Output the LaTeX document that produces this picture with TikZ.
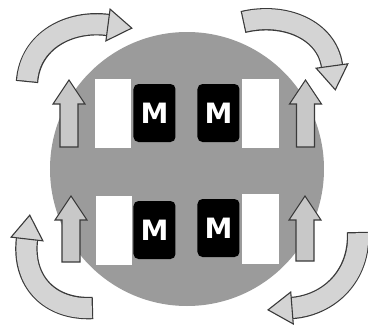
\documentclass[tikz,border=0pt]{standalone}
\usepackage{fontspec}
\newfontfamily\mfont{DejaVu Sans}
\usetikzlibrary{calc}
\definecolor{disc}{HTML}{9B9B9B}
\definecolor{lite}{HTML}{D4D4D4}
\definecolor{shaftfill}{HTML}{C8C8C8}
\definecolor{edge}{HTML}{3A3A3A}
\tikzset{
  discnode/.style={circle, fill=disc, minimum size=274pt, inner sep=0pt},
  whitebox/.style={rectangle, fill=white, inner sep=0pt},
  mbox/.style={rectangle, fill=black, rounded corners=5pt, inner sep=0pt,
    minimum width=42pt, minimum height=58pt, text=white,
    font=\mfont\bfseries\fontsize{28}{28}\selectfont},
  straightarr/.style={fill=shaftfill, draw=edge, line width=1.1pt, line join=miter},
  bandout/.style={draw=edge, line width=22.4pt},
  bandin/.style={draw=lite, line width=20pt, shorten <=1.2pt},
  headfill/.style={fill=lite, draw=edge, line width=1.1pt, line join=miter}
}
\newcommand\uparrowshape[3]{%
  \draw[straightarr] (#1-9,#3) -- (#1-9,#2+24) -- (#1-16,#2+24) -- (#1,#2)
     -- (#1+16,#2+24) -- (#1+9,#2+24) -- (#1+9,#3) -- cycle;}
% #1 name, #2 start, #3 control 1, #4 control 2, #5 end
\newcommand\curvedarrowshape[5]{%
  \coordinate (#1s) at #2;
  \coordinate (#1a) at #3;
  \coordinate (#1b) at #4;
  \coordinate (#1e) at #5;
  \draw[bandout] (#1s) .. controls (#1a) and (#1b) .. (#1e);
  \draw[bandin] (#1s) .. controls (#1a) and (#1b) .. (#1e);
  \draw[headfill] ($(#1e)!16pt!90:(#1b)$) -- ($(#1e)!-24pt!(#1b)$)
     -- ($(#1e)!16pt!-90:(#1b)$) -- cycle;}
\begin{document}
\begin{tikzpicture}[x=1pt, y=-1pt]
\useasboundingbox (0,0) rectangle (368,327);
\fill[white] (0,0) rectangle (368,327);
% disc
\node[discnode] (disc) at (187,169) {};
% white boxes
\node[whitebox, minimum width=36pt, minimum height=69pt] (w1) at (113,113.5) {};
\node[whitebox, minimum width=37pt, minimum height=69pt] (w2) at (260.5,113.5) {};
\node[whitebox, minimum width=36pt, minimum height=69pt] (w3) at (114,230.5) {};
\node[whitebox, minimum width=37pt, minimum height=70pt] (w4) at (260.5,229) {};
% M boxes
\node[mbox] (m1) at (154.5,113) {M};
\node[mbox] (m2) at (218.5,113) {M};
\node[mbox] (m3) at (154.5,230) {M};
\node[mbox] (m4) at (218.5,228) {M};
% straight arrows
\uparrowshape{69}{80}{147}
\uparrowshape{305.5}{80}{147}
\uparrowshape{71}{196}{262}
\uparrowshape{305}{196}{261}
% curved arrows
\curvedarrowshape{ca}{(27,82)}{(30,40)}{(70,20)}{(108,25)}
\curvedarrowshape{cb}{(243,22)}{(285,12)}{(327,30)}{(332,66)}
\curvedarrowshape{cc}{(93,308)}{(50,310)}{(22,282)}{(27,239)}
\curvedarrowshape{cd}{(358,232)}{(360,275)}{(330,305)}{(292,308)}
\end{tikzpicture}
\end{document}
